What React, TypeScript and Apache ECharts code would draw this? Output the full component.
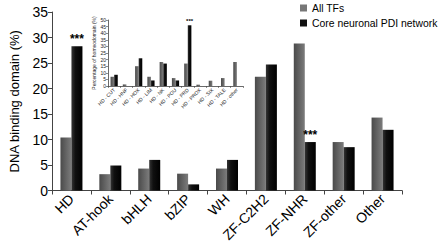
import React, { useEffect, useRef } from "react";
import * as echarts from "echarts";

const categories = ["HD", "AT-hook", "bHLH", "bZIP", "WH", "ZF-C2H2", "ZF-NHR", "ZF-other", "Other"];
const allTFs = [10.4, 3.2, 4.3, 3.3, 4.3, 22.3, 28.8, 9.5, 14.3];
const coreNetwork = [28.3, 4.9, 6.0, 1.2, 6.0, 24.7, 9.5, 8.5, 11.9];
const coreSignificant = [true, false, false, false, false, false, true, false, false];
const yTicks = { min: 0, max: 35, interval: 5 };

const insetCategories = ["HD - CUT", "HD - HNF", "HD - HOX", "HD - LIM", "HD - NK", "HD - POU", "HD - PRD", "HD - PROX", "HD - SIX", "HD - TALE", "HD - other"];
const insetAll = [7, 1.2, 15, 7, 18.2, 6, 17, 1, 4, 6, 18.2];
const insetCore = [8.5, 0, 21, 4.2, 17, 4.2, 46, 0, 0, 0, 0];
const insetSignificant = [false, false, false, false, false, false, true, false, false, false, false];
const insetTicks = { min: 0, max: 50, interval: 5 };

const FONT = "Liberation Sans, Arial, sans-serif";

const grayFill = new echarts.graphic.LinearGradient(0, 0, 1, 0, [
  { offset: 0, color: "#4a4a4a" },
  { offset: 1, color: "#7c7c7c" },
]);
const blackFill = new echarts.graphic.LinearGradient(0, 0, 1, 0, [
  { offset: 0, color: "#353535" },
  { offset: 0.35, color: "#101010" },
  { offset: 1, color: "#000000" },
]);

function withStars(values: number[], flags: boolean[], fontSize: number) {
  return values.map((v, i) =>
    flags[i]
      ? {
          value: v,
          label: {
            show: true,
            position: "top",
            distance: 1,
            formatter: "***",
            fontSize,
            fontWeight: "bold",
            color: "#000",
            fontFamily: FONT,
          },
        }
      : v
  );
}

export default function App() {
  const ref = useRef<HTMLDivElement>(null);
  useEffect(() => {
    document.body.style.margin = "0";
    if (!ref.current) return;
    const chart = echarts.init(ref.current, null, { renderer: "svg" });
    chart.setOption({
      animation: false,
      backgroundColor: "#fff",
      textStyle: { fontFamily: FONT },
      legend: {
        orient: "vertical",
        left: 300,
        top: 3,
        padding: 0,
        icon: "rect",
        itemWidth: 7,
        itemHeight: 7,
        itemGap: 5,
        data: [
          { name: "All TFs", itemStyle: { color: "#777" } },
          { name: "Core neuronal PDI network", itemStyle: { color: "#111" } },
        ],
        textStyle: { fontSize: 10.4, color: "#000", fontFamily: FONT },
      },
      grid: [
        { left: 46, right: 38, top: 12, bottom: 56.5, containLabel: false },
        { left: 108, right: 197, top: 20, height: 66, containLabel: false },
      ],
      xAxis: [
        {
          gridIndex: 0,
          type: "category",
          data: categories,
          axisLine: { lineStyle: { color: "#444", width: 1 } },
          axisTick: { show: true, length: 4, lineStyle: { color: "#444" } },
          axisLabel: { rotate: 45, fontSize: 14, color: "#000", margin: 6, interval: 0, fontFamily: FONT },
        },
        {
          gridIndex: 1,
          type: "category",
          data: insetCategories,
          axisLine: { lineStyle: { color: "#444", width: 0.8 } },
          axisTick: { show: true, length: 2, lineStyle: { color: "#444", width: 0.6 } },
          axisLabel: { rotate: 45, fontSize: 5, color: "#222", margin: 3, interval: 0, fontFamily: FONT },
        },
      ],
      yAxis: [
        {
          gridIndex: 0,
          type: "value",
          min: yTicks.min,
          max: yTicks.max,
          interval: yTicks.interval,
          name: "DNA binding domain (%)",
          nameLocation: "middle",
          nameGap: 31,
          nameTextStyle: { fontSize: 13, color: "#000", fontFamily: FONT },
          axisLine: { show: true, lineStyle: { color: "#444", width: 1 } },
          axisTick: { show: true, length: 4, lineStyle: { color: "#444" } },
          axisLabel: { fontSize: 14, color: "#000", margin: 4, fontFamily: FONT },
          splitLine: { show: false },
        },
        {
          gridIndex: 1,
          type: "value",
          min: insetTicks.min,
          max: insetTicks.max,
          interval: insetTicks.interval,
          name: "Percentage of homeodomain (%)",
          nameLocation: "middle",
          nameGap: 11,
          nameTextStyle: { fontSize: 5, color: "#222", fontFamily: FONT },
          axisLine: { show: true, lineStyle: { color: "#444", width: 0.8 } },
          axisTick: { show: true, length: 2, lineStyle: { color: "#444", width: 0.6 } },
          axisLabel: { fontSize: 5, color: "#222", margin: 2, fontFamily: FONT },
          splitLine: { show: false },
        },
      ],
      series: [
        {
          name: "All TFs",
          type: "bar",
          xAxisIndex: 0,
          yAxisIndex: 0,
          data: allTFs,
          barWidth: 11,
          barGap: "0%",
          itemStyle: { color: grayFill },
        },
        {
          name: "Core neuronal PDI network",
          type: "bar",
          xAxisIndex: 0,
          yAxisIndex: 0,
          data: withStars(coreNetwork, coreSignificant, 12),
          barWidth: 11,
          barGap: "0%",
          itemStyle: { color: blackFill },
        },
        {
          name: "inset-all",
          type: "bar",
          xAxisIndex: 1,
          yAxisIndex: 1,
          data: insetAll,
          barWidth: 3.6,
          barGap: "0%",
          itemStyle: { color: grayFill },
        },
        {
          name: "inset-core",
          type: "bar",
          xAxisIndex: 1,
          yAxisIndex: 1,
          data: withStars(insetCore, insetSignificant, 6),
          barWidth: 3.6,
          barGap: "0%",
          itemStyle: { color: blackFill },
        },
      ],
    });
    return () => chart.dispose();
  }, []);
  return <div ref={ref} style={{ width: 440, height: 247 }} />;
}
